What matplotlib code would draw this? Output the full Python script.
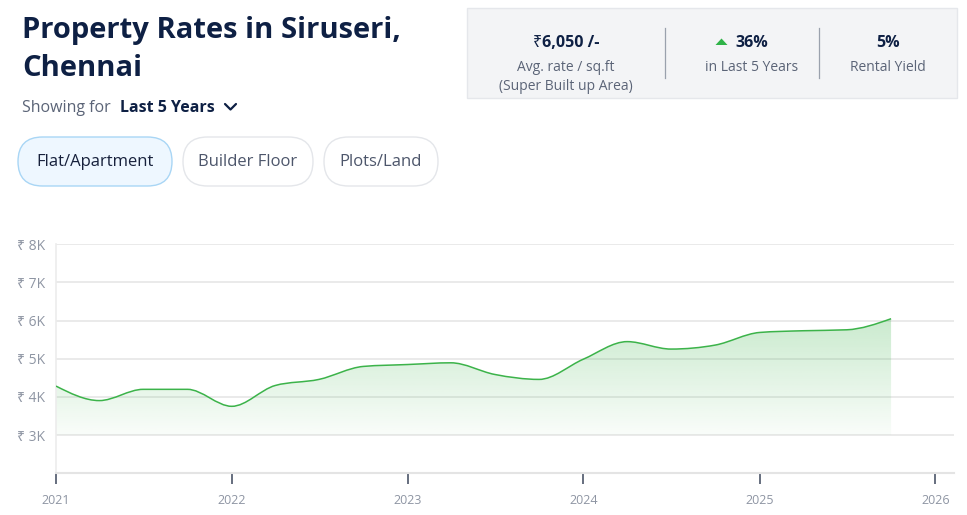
import numpy as np
import pandas as pd
import matplotlib
matplotlib.use("Agg")
import matplotlib.pyplot as plt
import matplotlib.dates as mdates
from matplotlib.path import Path
from matplotlib.patches import PathPatch, FancyBboxPatch, Polygon

plt.rcParams['font.family'] = ['Open Sans', 'Noto Sans', 'DejaVu Sans']

# ---- data (quarterly avg rate, Rs / sq.ft) ----
quarters = ["2021-01-01", "2021-04-01", "2021-07-01", "2021-10-01",
            "2022-01-01", "2022-04-01", "2022-07-01", "2022-10-01",
            "2023-01-01", "2023-04-01", "2023-07-01", "2023-10-01",
            "2024-01-01", "2024-04-01", "2024-07-01", "2024-10-01",
            "2025-01-01", "2025-04-01", "2025-07-01", "2025-10-01"]
rates = [4285, 3905, 4200, 4200,
         3755, 4300, 4460, 4800,
         4850, 4895, 4590, 4460,
         4990, 5450, 5255, 5360,
         5690, 5735, 5760, 6050]
ytick_vals = [3000, 4000, 5000, 6000, 7000, 8000]
ytick_labels = ["₹ 3K", "₹ 4K", "₹ 5K", "₹ 6K", "₹ 7K", "₹ 8K"]
year_ticks = ["2021", "2022", "2023", "2024", "2025", "2026"]

title_lines = ["Property Rates in Siruseri,", "Chennai"]
property_types = ["Flat/Apartment", "Builder Floor", "Plots/Land"]
stat_values = ["₹6,050 /-", "36%", "5%"]
stat_labels = ["Avg. rate / sq.ft\n(Super Built up Area)", "in Last 5 Years", "Rental Yield"]

W, H = 967, 515
NAVY = "#0e2044"
GRAY = "#5b6477"
GREEN = "#3cb34a"


def monotone_path(x, y):
    """cubic bezier path through the points, monotone in x (like d3 curveMonotoneX)"""
    x = np.asarray(x, float)
    y = np.asarray(y, float)
    n = len(x)
    h = np.diff(x)
    s = np.diff(y) / h
    t = np.zeros(n)
    for i in range(1, n - 1):
        p = (s[i - 1] * h[i] + s[i] * h[i - 1]) / (h[i - 1] + h[i])
        t[i] = (np.sign(s[i - 1]) + np.sign(s[i])) * min(abs(s[i - 1]), abs(s[i]), 0.5 * abs(p))
    t[0] = (3 * s[0] - t[1]) / 2
    t[-1] = (3 * s[-1] - t[-2]) / 2
    verts = [(x[0], y[0])]
    codes = [Path.MOVETO]
    for i in range(n - 1):
        dx = h[i] / 3
        verts += [(x[i] + dx, y[i] + dx * t[i]), (x[i + 1] - dx, y[i + 1] - dx * t[i + 1]), (x[i + 1], y[i + 1])]
        codes += [Path.CURVE4] * 3
    return verts, codes


fig = plt.figure(figsize=(W / 100, H / 100), dpi=100)

# overlay in pixel coords for the header
ov = fig.add_axes([0, 0, 1, 1], zorder=0)
ov.set_xlim(0, W)
ov.set_ylim(H, 0)
ov.axis("off")

ov.text(22, 38, title_lines[0], fontsize=21, fontweight="bold", color=NAVY, va="baseline")
ov.text(22, 76, title_lines[1], fontsize=21, fontweight="bold", color=NAVY, va="baseline")
ov.text(22, 112, "Showing for ", fontsize=11.5, color=GRAY, va="baseline")
ov.text(120, 112, "Last 5 Years", fontsize=11.5, fontweight="bold", color=NAVY, va="baseline")
ov.plot([225, 230.5, 236], [104, 109.5, 104], color=NAVY, lw=1.6, solid_capstyle="round")

# property type pills
pills = [(18, 172), (183, 313), (324, 438)]
for k, (x0, x1) in enumerate(pills):
    active = k == 0
    ov.add_patch(FancyBboxPatch((x0, 137), x1 - x0, 49,
                                boxstyle="round,pad=0,rounding_size=24.5",
                                fc="#eef7ff" if active else "white",
                                ec="#a9d6f5" if active else "#e4e6ea", lw=1))
    ov.text((x0 + x1) / 2, 161.5, property_types[k], fontsize=12,
            color="#17213c" if active else "#4d566b", ha="center", va="center")

# stats box
ov.add_patch(plt.Rectangle((467, 8), 490, 90, fc="#f3f4f6", ec="#e5e7eb", lw=1))
for xd in (665, 819):
    ov.plot([xd, xd], [28, 78], color="#9aa1ad", lw=0.9)
centers = [566, 752, 888]
for k, cx in enumerate(centers):
    ov.text(cx, 47, stat_values[k], fontsize=11.5, fontweight="bold", color=NAVY, ha="center", va="baseline")
    ov.text(cx, 60, stat_labels[k], fontsize=10, color=GRAY, ha="center", va="top", linespacing=1.35)
ov.add_patch(Polygon([[715.5, 45], [727.5, 45], [721.5, 38.5]], closed=True, fc="#2fb348", ec="none"))

# ---- chart ----
ax = fig.add_axes([56 / W, 1 - 473.3 / H, (953.3 - 55.7) / W, (473.3 - 244.3) / H], zorder=1)
ax.set_facecolor("none")
dates = mdates.date2num(pd.to_datetime(quarters))
verts, codes = monotone_path(dates, rates)

# gradient fill under the line, down to 3K
fill_verts = verts + [(dates[-1], 3000), (dates[0], 3000), (dates[0], rates[0])]
fill_codes = codes + [Path.LINETO, Path.LINETO, Path.CLOSEPOLY]
clip = PathPatch(Path(fill_verts, fill_codes), fc="none", ec="none", transform=ax.transData)
ax.add_patch(clip)
alpha = np.linspace(0.27, 0.03, 256)
grad = np.zeros((256, 2, 4))
grad[..., 0] = 0x3c / 255
grad[..., 1] = 0xb3 / 255
grad[..., 2] = 0x4a / 255
grad[..., 3] = alpha[:, None]
im = ax.imshow(grad, extent=[dates[0], dates[-1], 3000, max(rates)], aspect="auto",
               origin="upper", interpolation="bilinear", zorder=2)
im.set_clip_path(clip)

ax.add_patch(PathPatch(Path(verts, codes), fc="none", ec=GREEN, lw=1.1, zorder=3))

ax.set_ylim(2000, 8000)
xmin = mdates.date2num(pd.Timestamp("2021-01-01"))
ax.set_xlim(xmin, xmin + (953.3 - 55.7) / 175.9 * 365.25)
ax.set_yticks(ytick_vals)
ax.set_yticklabels(ytick_labels)
ax.set_xticks(mdates.date2num(pd.to_datetime([y + "-01-01" for y in year_ticks])))
ax.set_xticklabels(year_ticks)
ax.grid(axis="y", color="#e6e6e6", lw=1.2, zorder=0)
ax.set_axisbelow(True)
for side in ("top", "right"):
    ax.spines[side].set_visible(False)
ax.spines["left"].set_color("#ececec")
ax.spines["left"].set_linewidth(1.2)
ax.spines["bottom"].set_color("#e4e4e4")
ax.spines["bottom"].set_linewidth(1.5)
ax.tick_params(axis="y", length=0, pad=8, labelsize=10, labelcolor="#8e95a3")
ax.tick_params(axis="x", length=8, width=1.2, color="#4b5568", pad=7, labelsize=9, labelcolor="#8e95a3")

fig.savefig("out.png", dpi=100)
